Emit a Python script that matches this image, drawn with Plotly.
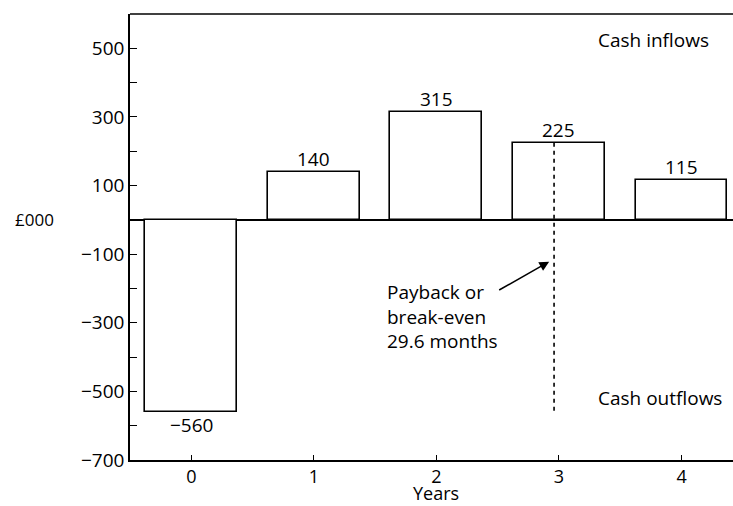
import plotly.graph_objects as go

years = [0, 1, 2, 3, 4]
cash_flows = [-560, 140, 315, 225, 115]
value_labels = ["\u2212560", "140", "315", "225", "115"]
y_tick_vals = [500, 300, 100, -100, -300, -500, -700]
y_tick_text = ["500", "300", "100", "\u2212100", "\u2212300", "\u2212500", "\u2212700"]
y_minor_vals = [400, 200, -200, -400, -600]
payback_x = 2.96
payback_line_y = [225, -560]
arrow_head = (2.92, -122)
arrow_tail = (2.50, -207)

FONT = "Open Sans"
FS = 19
fig = go.Figure()
fig.add_trace(go.Bar(
    x=years, y=cash_flows, width=0.75,
    marker=dict(color="white", line=dict(color="black", width=1.6)),
    showlegend=False, hoverinfo="skip"))
fig.add_trace(go.Scatter(
    x=[payback_x, payback_x], y=payback_line_y, mode="lines",
    line=dict(color="black", width=1.6, dash="4px,4px"),
    showlegend=False, hoverinfo="skip"))

ann = []
for xv, yv, t in zip(years, cash_flows, value_labels):
    ann.append(dict(x=xv, y=yv, text=t, showarrow=False,
                    yanchor="bottom" if yv > 0 else "top",
                    yshift=-2 if yv > 0 else 2,
                    font=dict(size=FS, family=FONT, color="black")))
ann.append(dict(x=arrow_head[0], y=arrow_head[1], ax=arrow_tail[0], ay=arrow_tail[1],
                axref="x", ayref="y", xref="x", yref="y", text="",
                showarrow=True, arrowhead=2, arrowsize=1.3, arrowwidth=1.5, arrowcolor="black"))
ann.append(dict(x=1.58, y=-168, xref="x", yref="y", xanchor="left", yanchor="top",
                align="left", showarrow=False,
                text="Payback or<br>break-even<br>29.6 months",
                font=dict(size=FS, family=FONT, color="black")))
ann.append(dict(x=3.30, y=525, xref="x", yref="y", xanchor="left", yanchor="middle",
                showarrow=False, text="Cash inflows",
                font=dict(size=FS, family=FONT, color="black")))
ann.append(dict(x=3.30, y=-520, xref="x", yref="y", xanchor="left", yanchor="middle",
                showarrow=False, text="Cash outflows",
                font=dict(size=FS, family=FONT, color="black")))
ann.append(dict(x=2, y=-0.103, xref="x", yref="paper", xanchor="center", yanchor="bottom",
                showarrow=False, text="Years", borderpad=0,
                font=dict(size=18, family=FONT, color="black")))
ann.append(dict(x=-0.194, y=0, xref="paper", yref="y", xanchor="left", yanchor="middle",
                showarrow=False, text="£000",
                font=dict(size=17, family=FONT, color="black")))

fig.update_layout(
    width=733, height=506,
    margin=dict(l=130, r=0, t=14, b=46),
    plot_bgcolor="white", paper_bgcolor="white",
    bargap=0, annotations=ann,
    font=dict(family=FONT, size=FS, color="black"),
    xaxis=dict(range=[-0.5, 4.42], tickvals=years, ticks="inside", ticklen=5,
               tickcolor="black", showgrid=False, zeroline=False,
               showline=True, linecolor="black", linewidth=1.6, mirror=False,
               tickfont=dict(size=18, family=FONT)),
    yaxis=dict(range=[-700, 600], tickvals=y_tick_vals, ticktext=y_tick_text,
               ticks="inside", ticklen=7, tickcolor="black", showgrid=False,
               zeroline=True, zerolinecolor="black", zerolinewidth=1.6,
               showline=True, linecolor="black", linewidth=1.6,
               minor=dict(tickvals=y_minor_vals, ticks="inside", ticklen=7, tickcolor="black"),
               tickfont=dict(size=FS, family=FONT)),
)
fig.add_shape(type="line", xref="paper", yref="paper", x0=0, x1=1, y0=1, y1=1,
              line=dict(color="black", width=1.6))
fig.write_html("out.html")
